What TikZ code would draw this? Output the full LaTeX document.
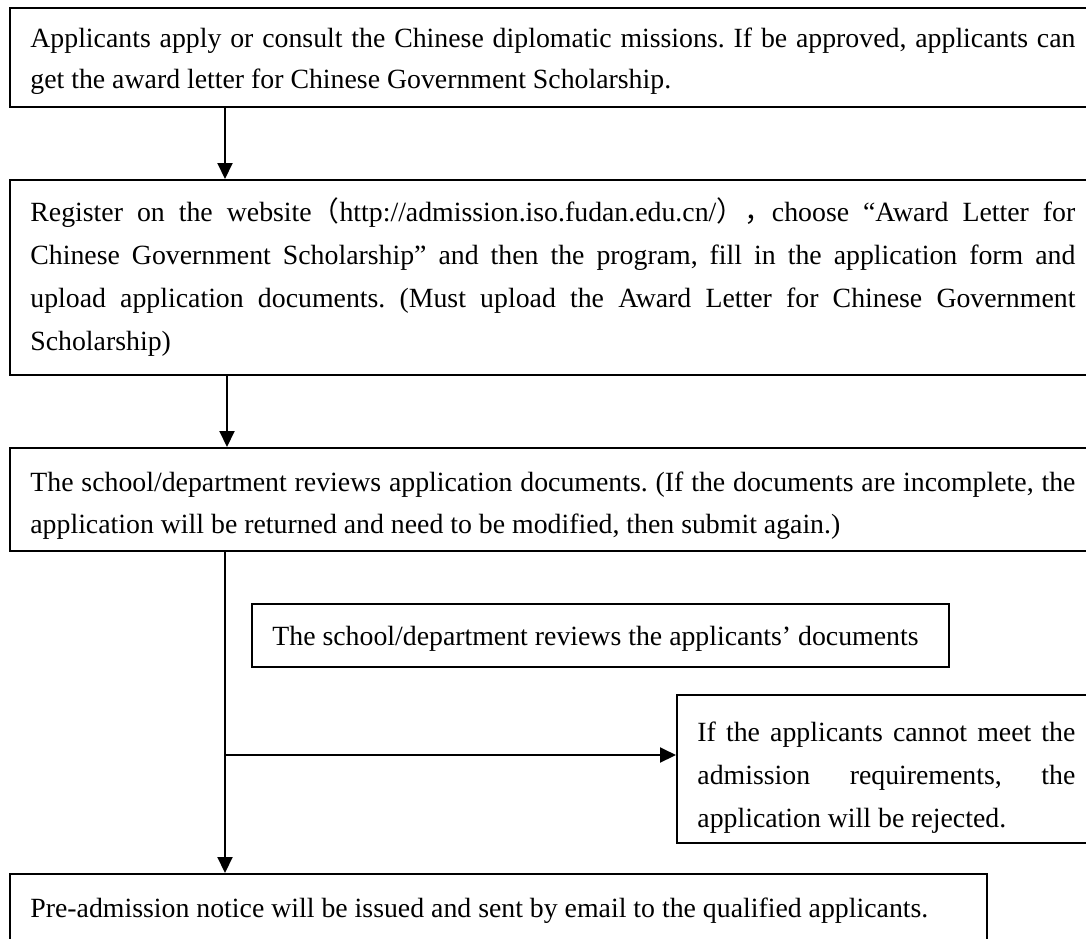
\documentclass[tikz,border=0pt]{standalone}
\usepackage{fontspec}
\setmainfont{Liberation Serif}
\newfontfamily\cjk{Noto Sans CJK SC}
\usetikzlibrary{arrows.meta}
\newcommand\rs{\spaceskip=0pt\xspaceskip=0pt\frenchspacing\relax}
\newcommand\jl[1]{\makebox[\hsize][s]{\rs #1}}
\begin{document}
\begin{tikzpicture}[x=0.5pt,y=-0.5pt,
 frame/.style={draw, line width=1pt, anchor=north west, inner sep=0pt},
 txt/.style={anchor=base west, inner sep=0pt, align=left,
   font=\fontsize{13.9}{#1}\selectfont},
 txt/.default=21pt,
 arr/.style={line width=1pt, -{Triangle[length=8pt,width=7.5pt]}}]
\useasboundingbox (0,0) rectangle (1086,938);
\clip (0,0) rectangle (1086,938);
\fill[white] (0,0) rectangle (1086,938);

% frames
\node[frame, minimum width=543.5pt, minimum height=49.5pt] (b1) at (9,7) {};
\node[frame, minimum width=543.5pt, minimum height=97.5pt] (b2) at (9,179) {};
\node[frame, minimum width=543.5pt, minimum height=51.5pt] (b3) at (9,447) {};
\node[frame, minimum width=348.5pt, minimum height=31.5pt] (b4) at (251,603) {};
\node[frame, minimum width=210pt, minimum height=74pt] (b5) at (676,694) {};
\node[frame, minimum width=488.5pt, minimum height=36pt] (b6) at (9,873) {};

% texts
\node[txt=20.75pt, text width=522.5pt] (t1) at (30,47)
 {\rs\jl{Applicants apply or consult the Chinese diplomatic missions. If be approved, applicants can}\\
  get the award letter for Chinese Government Scholarship.};

\node[txt=21.5pt, text width=522.5pt] (t2) at (30,221)
 {\rs\jl{Register on the website{\cjk （}http://admission.iso.fudan.edu.cn/{\cjk ），}choose “Award Letter for}\\
  \jl{Chinese Government Scholarship” and then the program, fill in the application form and}\\
  \jl{upload application documents. (Must upload the Award Letter for Chinese Government}\\
  Scholarship)};

\node[txt=21pt, text width=522.5pt] (t3) at (30,491)
 {\rs\jl{The school/department reviews application documents. (If the documents are incomplete, the}\\
  application will be returned and need to be modified, then submit again.)};

\node[txt] (t4) at (272,645)
 {\rs The school/department reviews the applicants’ documents};

\node[txt=21.5pt, text width=189pt] (t5) at (697,741)
 {\rs\jl{If the applicants cannot meet the}\\
  \jl{admission requirements, the}\\
  application will be rejected.};

\node[txt] (t6) at (30,917)
 {\rs Pre-admission notice will be issued and sent by email to the qualified applicants.};

% connectors
\coordinate (c1) at (225,0);
\coordinate (c2) at (227,0);
\coordinate (j) at (225,755);
\draw[arr] (c1 |- b1.south) -- (c1 |- b2.north);
\draw[arr] (c2 |- b2.south) -- (c2 |- b3.north);
\draw[arr] (c1 |- b3.south) -- (c1 |- b6.north);
\draw[arr] (j) -- (j -| b5.west);
\end{tikzpicture}
\end{document}
